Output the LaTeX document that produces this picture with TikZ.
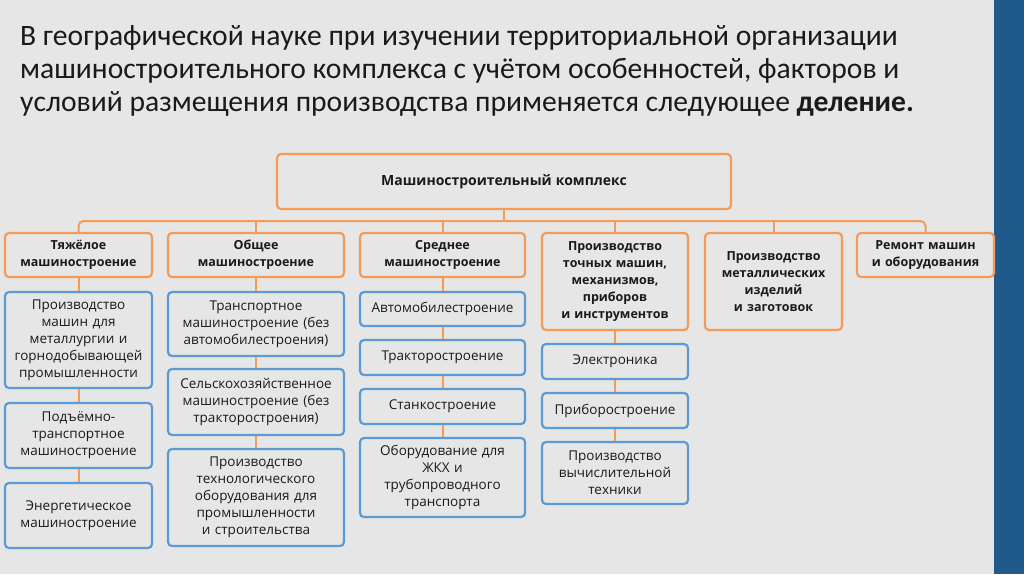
\documentclass[tikz,border=0pt]{standalone}
\usepackage{fontspec}
\setmainfont{Open Sans}
\newfontfamily\titlefont{Carlito}
\definecolor{bg}{HTML}{E6E6E6}
\definecolor{sidebar}{HTML}{1F5A8A}
\definecolor{org}{HTML}{F39C5A}
\definecolor{blu}{HTML}{5B9BD5}
\definecolor{ink}{HTML}{1A1A1A}
\newcommand\mybox[7]{\node[#6, minimum width={(#4-#2)*1pt}, minimum height={(#5-#3)*1pt}, text width={(#4-#2-4)*1pt}] (#1) at ({(#2+#4)/2},{(#3+#5)/2}) {#7};}
\tikzset{
  base/.style={rectangle, rounded corners=4pt, line width=2.2pt, fill=bg, inner sep=0pt, align=center, text=ink, font=\fontsize{13.5}{17}\selectfont},
  obox/.style={base, draw=org, font=\fontsize{12.5}{17}\selectfont\bfseries},
  bbox/.style={base, draw=blu},
  conn/.style={draw=org, line width=2pt},
  ttl/.style={anchor=base west, inner sep=0pt, text=ink, font=\titlefont\fontsize{29.6}{33}\selectfont},
}
\begin{document}
\begin{tikzpicture}[x=1pt,y=-1pt]
\fill[bg] (0,0) rectangle (1024,574);
\fill[sidebar] (994,0) rectangle (1024,574);
\useasboundingbox (0,0) rectangle (1024,574);
\node[ttl] (title1) at (20,45) {В географической науке при изучении территориальной организации};
\node[ttl] (title2) at (20,78) {машиностроительного комплекса с учётом особенностей, факторов и};
\node[ttl] (title3) at (20,111) {условий размещения производства применяется следующее \textbf{деление.}};
\mybox{root}{277}{154}{731}{209}{obox}{\fontsize{14}{17}\selectfont Машиностроительный комплекс}
\mybox{h1}{5}{233}{152}{277}{obox}{Тяжёлое\\машиностроение}
\mybox{h2}{168}{233}{344}{277}{obox}{Общее\\машиностроение}
\mybox{h3}{360}{233}{525}{277}{obox}{Среднее\\машиностроение}
\mybox{h4}{542}{233}{688}{330}{obox}{Производство\\точных машин,\\механизмов,\\приборов\\и инструментов}
\mybox{h5}{705}{233}{842}{330}{obox}{Производство\\металлических\\изделий\\и заготовок}
\mybox{h6}{857}{233}{994}{277}{obox}{Ремонт машин\\и оборудования}
% column 1
\mybox{a1}{5}{292}{152}{388}{bbox}{Производство\\машин для\\металлургии и\\горнодобывающей\\промышленности}
\mybox{a2}{5}{403}{152}{468}{bbox}{Подъёмно-\\транспортное\\машиностроение}
\mybox{a3}{5}{483}{152}{548}{bbox}{Энергетическое\\машиностроение}
% column 2
\mybox{b1}{168}{292}{344}{356}{bbox}{Транспортное\\машиностроение (без\\автомобилестроения)}
\mybox{b2}{168}{369}{344}{435}{bbox}{Сельскохозяйственное\\машиностроение (без\\тракторостроения)}
\mybox{b3}{168}{449}{344}{546}{bbox}{Производство\\технологического\\оборудования для\\промышленности\\и строительства}
% column 3
\mybox{c1}{360}{292}{525}{326}{bbox}{Автомобилестроение}
\mybox{c2}{360}{340}{525}{375}{bbox}{Тракторостроение}
\mybox{c3}{360}{389}{525}{424}{bbox}{Станкостроение}
\mybox{c4}{360}{438}{525}{517}{bbox}{Оборудование для\\ЖКХ и\\трубопроводного\\транспорта}
% column 4
\mybox{d1}{542}{344}{688}{379}{bbox}{Электроника}
\mybox{d2}{542}{393}{688}{428}{bbox}{Приборостроение}
\mybox{d3}{542}{442}{688}{504}{bbox}{Производство\\вычислительной\\техники}
% connectors
\coordinate (bus) at (0,221);
\draw[conn, rounded corners=5pt] (h1.north) -- (h1.north |- bus) -- (h6.north |- bus) -- (h6.north);
\foreach \n in {h2,h3,h4,h5} \draw[conn] (\n.north) -- (\n.north |- bus);
\draw[conn] (root.south) -- (root.south |- bus);
\draw[conn] (h1.south) -- (a1.north);
\draw[conn] (a1.south) -- (a2.north);
\draw[conn] (a2.south) -- (a3.north);
\draw[conn] (h2.south) -- (b1.north);
\draw[conn] (b1.south) -- (b2.north);
\draw[conn] (b2.south) -- (b3.north);
\draw[conn] (h3.south) -- (c1.north);
\draw[conn] (c1.south) -- (c2.north);
\draw[conn] (c2.south) -- (c3.north);
\draw[conn] (c3.south) -- (c4.north);
\draw[conn] (h4.south) -- (d1.north);
\draw[conn] (d1.south) -- (d2.north);
\draw[conn] (d2.south) -- (d3.north);
\end{tikzpicture}
\end{document}
